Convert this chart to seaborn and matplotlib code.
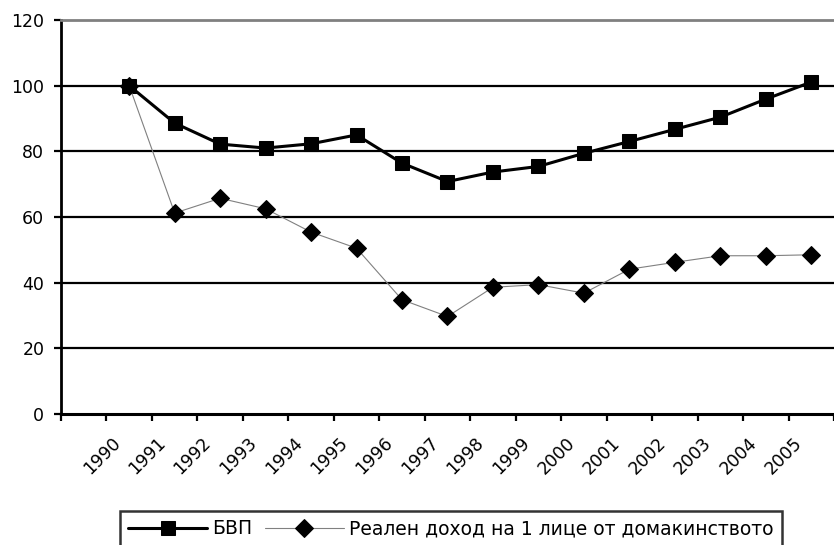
import numpy as np
import pandas as pd
import matplotlib
matplotlib.use('Agg')
import matplotlib.pyplot as plt
import matplotlib.transforms as mtransforms
import seaborn as sns

# data
years = [str(y) for y in range(1990, 2006)]
gdp = [100, 88.6, 82.2, 81.0, 82.3, 85.0, 76.4, 70.8, 73.7, 75.4, 79.4, 83.0, 86.7, 90.4, 95.9, 101.1]
income = [100, 61.2, 65.7, 62.5, 55.4, 50.5, 34.8, 29.7, 38.6, 39.4, 36.8, 44.1, 46.2, 48.2, 48.2, 48.5]
labels = ['БВП', 'Реален доход на 1 лице от домакинството']
yticks = [0, 20, 40, 60, 80, 100, 120]

sns.set_style('white')
plt.rcParams['font.family'] = ['DejaVu Sans']
plt.rcParams['text.color'] = 'black'
plt.rcParams['xtick.color'] = 'black'
plt.rcParams['ytick.color'] = 'black'
fs = 12.5

fig = plt.figure(figsize=(8.34, 5.45), dpi=100)
ax = fig.add_axes([61 / 834, 1 - 414 / 545, 1 - 61 / 834, (414 - 20) / 545])

pos = np.arange(len(years))
sns.lineplot(x=pos, y=gdp, ax=ax, color='black', lw=2.2, marker='s', ms=10,
             markeredgecolor='black', markerfacecolor='black', label=labels[0])
sns.lineplot(x=pos, y=income, ax=ax, color='#808080', lw=0.8, marker='D', ms=9,
             markeredgecolor='black', markerfacecolor='black', label=labels[1])

ax.set_ylim(0, 120)
ax.set_xlim(-1.5, 15.3)
ax.set_yticks(yticks)
ax.set_yticklabels([str(v) for v in yticks], fontsize=fs)
for v in yticks[1:-1]:
    ax.axhline(v, color='black', lw=1.6, zorder=0)

# category boundaries carry the tick marks, labels sit on the centres
ax.set_xticks(np.arange(-1.5, 16, 1.0))
ax.set_xticklabels([])
ax.set_xticks(pos, minor=True)
ax.set_xticklabels(years, minor=True, rotation=45, ha='right', va='center_baseline',
                   rotation_mode='anchor', fontsize=fs)
ax.tick_params(axis='x', which='major', direction='out', length=5, width=1.6, color='black', bottom=True)
ax.tick_params(axis='x', which='minor', length=0, pad=18)
ax.tick_params(axis='y', direction='out', length=5, width=1.6, color='black', pad=7, left=True)
shift = mtransforms.ScaledTranslation(-9.5 / 72, 0, fig.dpi_scale_trans)
for lab in ax.get_xticklabels(minor=True):
    lab.set_transform(lab.get_transform() + shift)

ax.spines['left'].set_color('black')
ax.spines['left'].set_linewidth(2)
ax.spines['bottom'].set_color('black')
ax.spines['bottom'].set_linewidth(2.2)
ax.spines['top'].set_color('#808080')
ax.spines['top'].set_linewidth(2)
ax.spines['right'].set_visible(False)
ax.set_xlabel('')
ax.set_ylabel('')

ax.get_legend().remove()
handles, _ = ax.get_legend_handles_labels()
leg = fig.legend(handles, labels, loc='upper center', ncol=2,
                 bbox_to_anchor=(451 / 834, 1 - 511 / 545), borderaxespad=0,
                 fontsize=13.5, frameon=True, fancybox=False, handlelength=4.2,
                 handletextpad=0.3, columnspacing=0.65, borderpad=0.45)
leg.get_frame().set_edgecolor('black')
leg.get_frame().set_linewidth(1.8)

fig.savefig('out.png', dpi=100)
